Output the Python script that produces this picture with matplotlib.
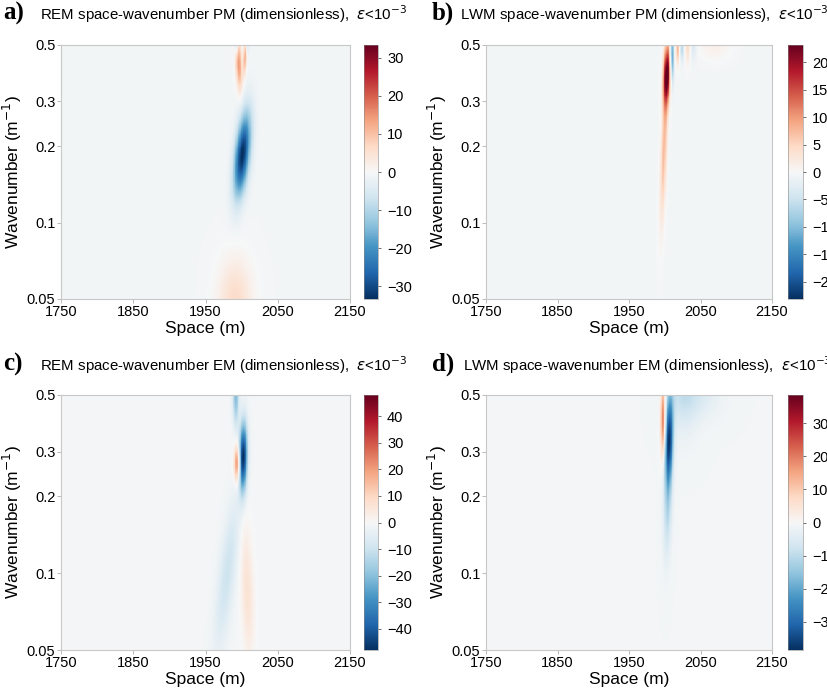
import numpy as np
import matplotlib
matplotlib.use('Agg')
import matplotlib.pyplot as plt

plt.rcParams['font.family'] = ['Liberation Sans', 'DejaVu Sans']

# axes ticks
space_ticks = [1750, 1850, 1950, 2050, 2150]
wn_ticks = [0.05, 0.1, 0.2, 0.3, 0.5]
wn_labels = ['0.05', '0.1', '0.2', '0.3', '0.5']

tags = ['a)', 'b)', 'c)', 'd)']
titles = ['REM space-wavenumber PM (dimensionless),  $\\varepsilon$<10$^{-3}$',
          'LWM space-wavenumber PM (dimensionless),  $\\varepsilon$<10$^{-3}$',
          'REM space-wavenumber EM (dimensionless),  $\\varepsilon$<10$^{-3}$',
          'LWM space-wavenumber EM (dimensionless),  $\\varepsilon$<10$^{-3}$']
vmax = [33.4, 23.1, 48.0, 38.5]
cb_ticks = [[-30, -20, -10, 0, 10, 20, 30],
            [-20, -15, -10, -5, 0, 5, 10, 15, 20],
            [-40, -30, -20, -10, 0, 10, 20, 30, 40],
            [-30, -20, -10, 0, 10, 20, 30]]
background = [-0.8, -0.6, -1.0, -0.9]

# streak features
# centre space (m), centre wavenumber, width (m), spread (decades), drift (m per decade), amplitude
a_xc = [1996, 2005, 1993, 2008, 2001, 1991]
a_kc = [0.42, 0.45, 0.50, 0.50, 0.185, 0.05]
a_sx = [3, 2, 1.5, 1.5, 7, 16]
a_sk = [0.07, 0.05, 0.03, 0.03, 0.11, 0.11]
a_tilt = [-15, 20, 0, 0, 34, 0]
a_amp = [15, 12, -10, -8, -33, 7]

b_xc = [2003, 1999, 2010, 2018, 2024, 2032, 2040, 2070]
b_kc = [0.38, 0.20, 0.45, 0.48, 0.48, 0.50, 0.50, 0.50]
b_sx = [3.5, 3, 2, 2, 2, 2.5, 3, 15]
b_sk = [0.08, 0.20, 0.07, 0.04, 0.03, 0.05, 0.04, 0.04]
b_tilt = [11, 11, 0, 0, 0, 0, 0, 0]
b_amp = [24, 8, -14, 8, -6, 5, -3, 2]

c_xc = [1992, 1994, 2002, 1980, 2008]
c_kc = [0.50, 0.27, 0.285, 0.10, 0.085]
c_sx = [3, 3, 4, 8, 6]
c_sk = [0.08, 0.05, 0.09, 0.20, 0.18]
c_tilt = [0, 0, 5, 41, -10]
c_amp = [-20, 26, -48, -9, 8]

d_xc = [1997.5, 2006, 2004, 2025, 2050]
d_kc = [0.40, 0.33, 0.18, 0.50, 0.50]
d_sx = [2.5, 4, 4, 15, 20]
d_sk = [0.10, 0.12, 0.13, 0.10, 0.06]
d_tilt = [0, 7, 7, 0, 0]
d_amp = [22, -36, -9, -7, -4]

features = [(a_xc, a_kc, a_sx, a_sk, a_tilt, a_amp),
            (b_xc, b_kc, b_sx, b_sk, b_tilt, b_amp),
            (c_xc, c_kc, c_sx, c_sk, c_tilt, c_amp),
            (d_xc, d_kc, d_sx, d_sk, d_tilt, d_amp)]

space = np.arange(1750, 2151, 1.0)
wn = np.logspace(np.log10(0.05), np.log10(0.5), 260)
X, K = np.meshgrid(space, wn)
L = np.log10(K)


def build(i):
    xc, kc, sx, sk, tilt, amp = features[i]
    z = np.full(X.shape, background[i])
    for j in range(len(xc)):
        lc = np.log10(kc[j])
        cx = xc[j] + tilt[j] * (L - lc)
        z += amp[j] * np.exp(-0.5 * ((X - cx) / sx[j]) ** 2 - 0.5 * ((L - lc) / sk[j]) ** 2)
    return z


W, H = 827, 699
fig = plt.figure(figsize=(W / 100, H / 100), dpi=100)

ax_px = [(61, 45, 289, 254), (486, 45, 286, 254), (61, 395, 289, 255), (486, 395, 286, 255)]
cb_px = [(364, 45, 14, 254), (788, 45, 15, 254), (364, 395, 14, 255), (788, 395, 15, 255)]
tag_px = [(3, 20), (432, 20), (3, 371), (432, 371)]
title_px = [(40, 20), (460, 20), (40, 371), (463, 371)]

grey = '#b0b0b0'
for i in range(4):
    x0, y0, w, h = ax_px[i]
    ax = fig.add_axes([x0 / W, 1 - (y0 + h) / H, w / W, h / H])
    z = build(i)
    m = ax.pcolormesh(space, wn, z, cmap='RdBu_r', vmin=-vmax[i], vmax=vmax[i],
                      shading='auto', rasterized=True)
    ax.set_yscale('log')
    ax.set_ylim(0.05, 0.5)
    ax.set_xlim(1750, 2150)
    ax.set_yticks(wn_ticks)
    ax.set_yticklabels(wn_labels)
    ax.minorticks_off()
    ax.set_xticks(space_ticks)
    ax.tick_params(labelsize=10.5, length=3, width=0.6, color=grey, pad=1)
    for s in ax.spines.values():
        s.set_color('#c8c8c8')
        s.set_linewidth(0.8)
    ax.set_xlabel('Space (m)', fontsize=12.5, labelpad=2)
    ax.set_ylabel('Wavenumber (m$^{-1}$)', fontsize=12.5)
    ax.yaxis.set_label_coords(-37 / w, 0.5)

    cx0, cy0, cw, ch = cb_px[i]
    cax = fig.add_axes([cx0 / W, 1 - (cy0 + ch) / H, cw / W, ch / H])
    cb = fig.colorbar(m, cax=cax, ticks=cb_ticks[i])
    cb.outline.set_linewidth(0.4)
    cb.outline.set_edgecolor('#888888')
    cax.tick_params(labelsize=10.5, length=2.5, width=0.6, color='#555555', pad=4)

    fig.text(tag_px[i][0] / W, 1 - tag_px[i][1] / H, tags[i], fontsize=18,
             fontweight='bold', family=['Liberation Serif', 'DejaVu Serif'], va='baseline')
    fig.text(title_px[i][0] / W, 1 - title_px[i][1] / H, titles[i], fontsize=10.8,
             va='baseline')

fig.savefig('out.png', dpi=100)
